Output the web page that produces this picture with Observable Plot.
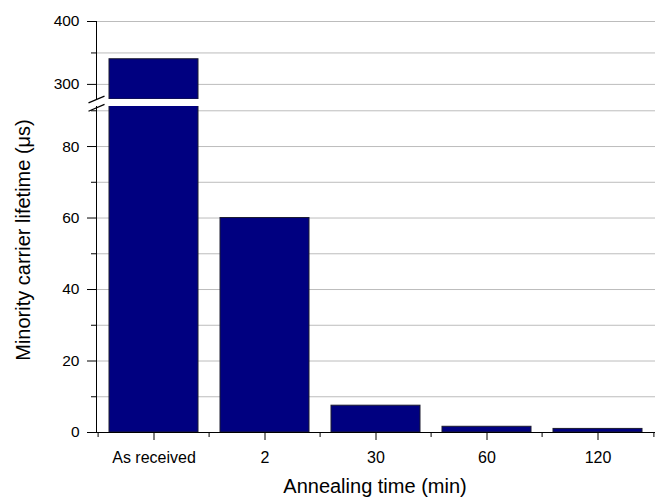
<!DOCTYPE html>
<html><head><meta charset="utf-8">
<script src="https://cdn.jsdelivr.net/npm/d3@7"></script>
<script src="https://cdn.jsdelivr.net/npm/@observablehq/plot@0.6"></script>
<style>
body{margin:0;background:#fff;}
#chart{position:relative;width:659px;height:497px;font-family:"Liberation Sans",Arial,sans-serif;color:#000;}
#chart svg{position:absolute;left:0;top:0;}
.lab{position:absolute;white-space:nowrap;line-height:1;color:#000;}
</style></head><body>
<div id="chart"></div>
<script>
const categories = ["As received", "2", "30", "60", "120"];
const lifetimes = [340, 60, 7.5, 1.6, 1.0];
const upperDomain = [276, 400];
const lowerDomain = [0, 91.2];
const upperMajor = [300, 400];
const upperMinor = [350];
const upperGrid = [300, 350, 400];
const lowerMajor = [0, 20, 40, 60, 80];
const lowerMinor = [10, 30, 50, 70, 90];
const lowerGrid = [10, 20, 30, 40, 50, 60, 70, 80, 90];
const xLabel = "Annealing time (min)";
const yLabel = "Minority carrier lifetime (μs)";

const data = categories.map((c, i) => ({cat: c, value: lifetimes[i]}));

const W = 659, H = 497, mL = 96, mR = 4;
const pInner = 0.2, pOuter = 0.1;
const step = (W - mL - mR) / (categories.length - pInner + 2 * pOuter);
const half = step / 2;

const style = {fontFamily: "'Liberation Sans', Arial, sans-serif", fontSize: "15.5px", color: "black", background: "transparent", overflow: "visible"};
const xScale = {type: "band", domain: categories, paddingInner: pInner, paddingOuter: pOuter};
const slash = {draw(ctx) { ctx.moveTo(-8, 3.4); ctx.lineTo(8, -3.4); }};
const barStyle = {fill: "#000080", stroke: "#1c1c30", strokeWidth: 1};
const gridStyle = {stroke: "#bcbcbc", strokeOpacity: 1};

const upper = Plot.plot({
  width: W, height: 110, marginLeft: mL, marginRight: mR, marginTop: 21, marginBottom: 11,
  x: {...xScale, axis: null},
  y: {domain: upperDomain},
  style,
  marks: [
    Plot.gridY(upperGrid, gridStyle),
    Plot.barY(data.filter(d => d.value > upperDomain[0]), {x: "cat", y1: () => upperDomain[0], y2: "value", ...barStyle, clip: true}),
    Plot.frame({anchor: "left", stroke: "black"}),
    Plot.axisY(upperMajor, {tickSize: 9, tickPadding: 8, fontSize: 15.5, label: null}),
    Plot.axisY(upperMinor, {tickSize: 5, text: null, label: null}),
    Plot.dot([upperDomain[0]], {y: d => d, frameAnchor: "left", symbol: slash, stroke: "black", strokeWidth: 1.2, fill: "none"})
  ]
});

const lower = Plot.plot({
  width: W, height: H, marginLeft: mL, marginRight: mR, marginTop: 106, marginBottom: 65,
  x: xScale,
  y: {domain: lowerDomain},
  style,
  marks: [
    Plot.gridY(lowerGrid, gridStyle),
    Plot.barY(data, {x: "cat", y: "value", ...barStyle, clip: true}),
    Plot.ruleY([0], {stroke: "black"}),
    Plot.frame({anchor: "left", stroke: "black"}),
    Plot.axisY(lowerMajor, {tickSize: 9, tickPadding: 8, fontSize: 15.5, label: null}),
    Plot.axisY(lowerMinor, {tickSize: 5, text: null, label: null}),
    Plot.axisX({tickSize: 8, tickPadding: 11, fontSize: 16, label: null}),
    Plot.axisX({tickSize: 5, text: null, dx: -half, label: null}),
    Plot.axisX([categories[categories.length - 1]], {tickSize: 5, text: null, dx: half, label: null}),
    Plot.dot([lowerDomain[1]], {y: d => d, frameAnchor: "left", symbol: slash, stroke: "black", strokeWidth: 1.2, fill: "none", dy: 1.3})
  ]
});

const chart = document.getElementById("chart");
chart.appendChild(lower);
chart.appendChild(upper);

const xl = document.createElement("div");
xl.className = "lab";
xl.textContent = xLabel;
xl.style.fontSize = "20px";
xl.style.left = "375px";
xl.style.top = "475.6px";
xl.style.transform = "translateX(-50%)";
chart.appendChild(xl);

const yl = document.createElement("div");
yl.className = "lab";
yl.textContent = yLabel;
yl.style.fontSize = "20px";
yl.style.left = "23px";
yl.style.top = "240px";
yl.style.transform = "translate(-50%,-50%) rotate(-90deg)";
chart.appendChild(yl);
</script>
</body></html>
